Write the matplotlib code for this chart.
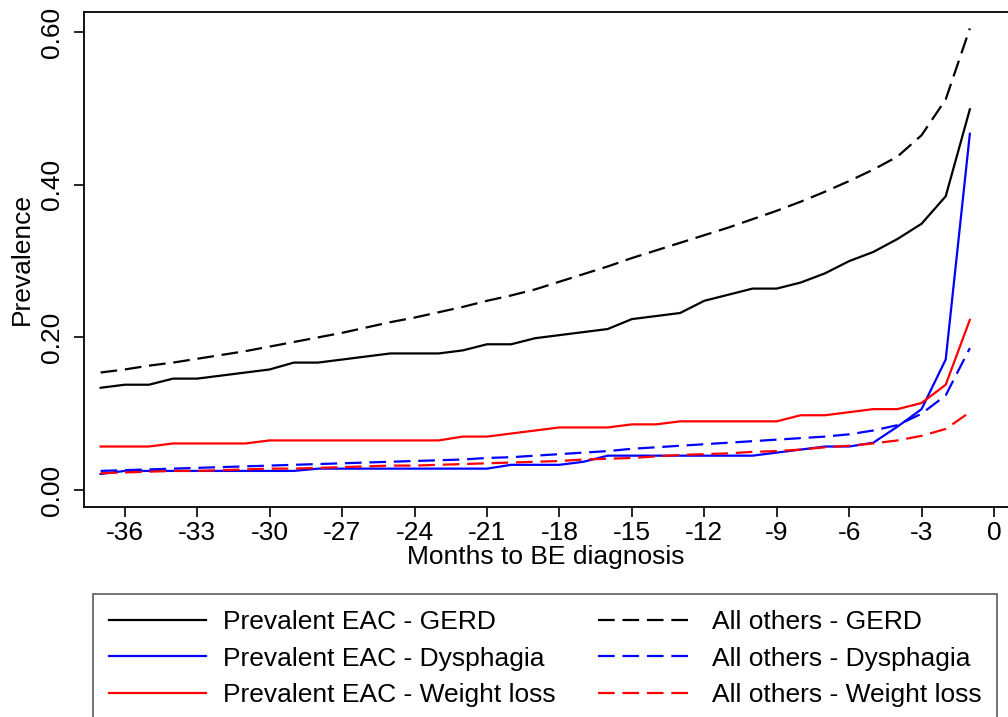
import numpy as np
import matplotlib.pyplot as plt

plt.rcParams['font.family'] = ['Liberation Sans', 'DejaVu Sans']
plt.rcParams['axes.unicode_minus'] = False

# meses hasta el diagnostico de BE
meses = list(range(-37, 0))

eac_gerd = [0.134, 0.138, 0.138, 0.146, 0.146, 0.150, 0.154, 0.158, 0.167, 0.167,
            0.171, 0.175, 0.179, 0.179, 0.179, 0.183, 0.191, 0.191, 0.199, 0.203,
            0.207, 0.211, 0.224, 0.228, 0.232, 0.248, 0.256, 0.264, 0.264, 0.272,
            0.284, 0.300, 0.312, 0.329, 0.349, 0.385, 0.499]
eac_dys = [0.021, 0.025, 0.025, 0.025, 0.025, 0.025, 0.025, 0.025, 0.025, 0.028,
           0.028, 0.028, 0.028, 0.028, 0.028, 0.028, 0.028, 0.033, 0.033, 0.033,
           0.037, 0.045, 0.045, 0.045, 0.045, 0.045, 0.045, 0.045, 0.049, 0.053,
           0.057, 0.057, 0.062, 0.083, 0.106, 0.171, 0.467]
eac_wl = [0.057, 0.057, 0.057, 0.061, 0.061, 0.061, 0.061, 0.065, 0.065, 0.065,
          0.065, 0.065, 0.065, 0.065, 0.065, 0.070, 0.070, 0.074, 0.078, 0.082,
          0.082, 0.082, 0.086, 0.086, 0.090, 0.090, 0.090, 0.090, 0.090, 0.098,
          0.098, 0.102, 0.106, 0.106, 0.114, 0.138, 0.223]

otros_gerd = [0.154, 0.158, 0.163, 0.167, 0.172, 0.177, 0.182, 0.188, 0.194, 0.200,
              0.206, 0.213, 0.220, 0.226, 0.233, 0.240, 0.248, 0.255, 0.263, 0.273,
              0.283, 0.293, 0.304, 0.314, 0.324, 0.334, 0.344, 0.355, 0.366, 0.378,
              0.391, 0.405, 0.420, 0.437, 0.465, 0.512, 0.605]
otros_dys = [0.025, 0.026, 0.027, 0.028, 0.029, 0.030, 0.031, 0.032, 0.033, 0.034,
             0.035, 0.036, 0.037, 0.038, 0.039, 0.040, 0.042, 0.043, 0.045, 0.047,
             0.049, 0.051, 0.054, 0.056, 0.058, 0.060, 0.062, 0.064, 0.066, 0.068,
             0.070, 0.073, 0.078, 0.085, 0.100, 0.124, 0.186]
otros_wl = [0.022, 0.023, 0.024, 0.025, 0.025, 0.026, 0.027, 0.028, 0.028, 0.029,
            0.030, 0.031, 0.032, 0.032, 0.033, 0.034, 0.035, 0.036, 0.037, 0.038,
            0.040, 0.041, 0.042, 0.044, 0.046, 0.047, 0.048, 0.050, 0.051, 0.053,
            0.056, 0.058, 0.061, 0.065, 0.071, 0.080, 0.102]

xticks = list(range(-36, 1, 3))
yticks = [0.0, 0.2, 0.4, 0.6]

fs = 19

fig = plt.figure(figsize=(10.08, 7.17), dpi=100)
ax = fig.add_axes([0.0833, 0.2933, 0.9167, 0.69])

lw = 1.6
guion = (0, (7.5, 3.5))

# Graficar lineas solidas (EAC) y punteadas (otros)
ax.plot(meses, eac_gerd, color='black', lw=lw, label='Prevalent EAC - GERD')
ax.plot(meses, eac_dys, color='blue', lw=lw, label='Prevalent EAC - Dysphagia')
ax.plot(meses, eac_wl, color='red', lw=lw, label='Prevalent EAC - Weight loss')
ax.plot(meses, otros_gerd, color='black', lw=lw, ls=guion, label='All others - GERD')
ax.plot(meses, otros_dys, color='blue', lw=lw, ls=guion, label='All others - Dysphagia')
ax.plot(meses, otros_wl, color='red', lw=lw, ls=guion, label='All others - Weight loss')

ax.set_xlim(-37.69, 0.58)
ax.set_ylim(-0.0219, 0.6266)

ax.set_xticks(xticks)
ax.set_xticklabels([str(t) for t in xticks])
ax.set_yticks(yticks)
ax.set_yticklabels([f'{t:.2f}' for t in yticks], rotation=90, va='center')

for s in ['left', 'bottom', 'top']:
    ax.spines[s].set_linewidth(1.3)
ax.spines['right'].set_visible(False)

ax.tick_params(axis='both', direction='out', length=7.5, width=1.2, labelsize=fs)
ax.tick_params(axis='x', pad=3)
ax.tick_params(axis='y', pad=7)

ax.set_xlabel('Months to BE diagnosis', fontsize=fs, labelpad=0)
ax.set_ylabel('Prevalence', fontsize=fs, labelpad=4)

# Leyenda abajo, dos columnas (se llena por columnas)
leg = fig.legend(loc='upper left', bbox_to_anchor=(0.0923, -0.01, 0.8968, 0.1815),
                 mode='expand', ncol=2, fontsize=fs, frameon=True, fancybox=False,
                 borderaxespad=0, handlelength=3.67, handletextpad=0.65,
                 labelspacing=0.48, borderpad=0.6)
leg.get_frame().set_edgecolor('#333333')
leg.get_frame().set_linewidth(1.2)

plt.savefig('out.png', dpi=100)
